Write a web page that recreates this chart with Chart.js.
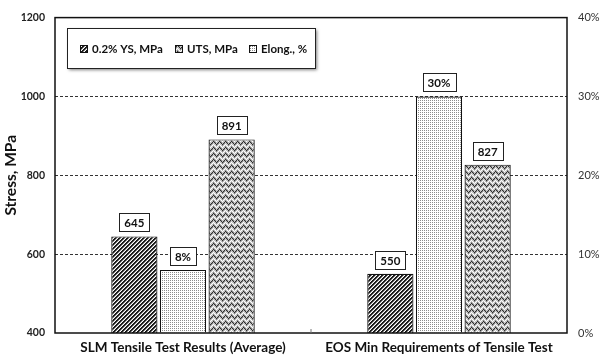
<!DOCTYPE html>
<html>
<head>
<meta charset="utf-8">
<script src="https://cdn.jsdelivr.net/npm/chart.js@4.4.1/dist/chart.umd.min.js"></script>
<style>
  html, body { margin: 0; padding: 0; background: #fff; overflow: hidden; }
  #wrap { width: 604px; height: 356px; }
</style>
</head>
<body>
<div id="wrap"><canvas id="c" width="604" height="356"></canvas></div>
<script>
// Tensile test categories and results
const categories = ['SLM Tensile Test Results (Average)', 'EOS Min Requirements of Tensile Test'];
const ysMPa = [645, 550];       // 0.2% yield strength, MPa
const elongPct = [8, 30];       // elongation, %
const utsMPa = [891, 827];      // ultimate tensile strength, MPa
const stressTicks = [400, 600, 800, 1000, 1200];
const pctTicks = [0, 10, 20, 30, 40];

const FONT = 'Lato, "Open Sans", "DejaVu Sans", sans-serif';

// Pixel fill patterns for the bars
function pixelPattern(size, colorAt) {
  const c = document.createElement('canvas');
  c.width = size; c.height = size;
  const g = c.getContext('2d');
  for (let y = 0; y < size; y++) {
    for (let x = 0; x < size; x++) {
      g.fillStyle = colorAt(x, y);
      g.fillRect(x, y, 1, 1);
    }
  }
  return g.createPattern(c, 'repeat');
}
// dense "/" hatching
const hatchFill = pixelPattern(4, (x, y) => {
  const d = (x + y) % 4;
  return (d === 0 || d === 1) ? '#1c1c1c' : (d === 2 ? '#9a9a9a' : '#ffffff');
});
// light fine dots
const dotFill = pixelPattern(2, (x, y) => (x === 0 && y === 0) ? '#8c8c8c' : '#ffffff');
// fine chevron weave
const weaveFill = pixelPattern(6, (x, y) => {
  const k = x < 3 ? (x + y) % 6 : (x - y + 12) % 6;
  if (k === 0) return '#2e2e2e';
  if (k === 3) return '#ffffff';
  if (k === 1) return '#8a8a8a';
  return '#c4c4c4';
});

const datasets = [
  { label: '0.2% YS, MPa', data: ysMPa, yAxisID: 'y', backgroundColor: hatchFill, suffix: '', legendOrder: 0 },
  { label: 'Elong., %', data: elongPct, yAxisID: 'y1', backgroundColor: dotFill, suffix: '%', legendOrder: 2 },
  { label: 'UTS, MPa', data: utsMPa, yAxisID: 'y', backgroundColor: weaveFill, suffix: '', legendOrder: 1 }
].map(d => Object.assign(d, {
  borderColor: '#111', borderWidth: 1.2, categoryPercentage: 0.57, barPercentage: 0.95
}));

// Plot frame drawn over the grid
const framePlugin = {
  id: 'frame',
  afterDatasetsDraw(chart) {
    const { ctx, chartArea: a } = chart;
    ctx.save();
    ctx.strokeStyle = '#111'; ctx.lineWidth = 1.5;
    ctx.strokeRect(a.left, a.top, a.right - a.left, a.bottom - a.top);
    // small divider tick between the two groups
    const xs = chart.scales.x;
    const mid = (xs.getPixelForValue(0) + xs.getPixelForValue(1)) / 2;
    ctx.lineWidth = 1; ctx.strokeStyle = '#777';
    ctx.beginPath(); ctx.moveTo(mid, a.bottom); ctx.lineTo(mid, a.bottom - 4); ctx.stroke();
    ctx.restore();
  }
};

// Boxed value labels above each bar
const valueLabels = {
  id: 'valueLabels',
  afterDatasetsDraw(chart) {
    const { ctx } = chart;
    ctx.save();
    ctx.font = 'bold 11.5px ' + FONT;
    ctx.textAlign = 'center';
    ctx.textBaseline = 'middle';
    chart.data.datasets.forEach((ds, i) => {
      chart.getDatasetMeta(i).data.forEach((bar, j) => {
        const txt = ds.data[j] + ds.suffix;
        const w = Math.round(ctx.measureText(txt).width + 10);
        const h = 18;
        const x = bar.x, yb = Math.round(bar.y - 5);
        const left = Math.round(x - w / 2);
        ctx.fillStyle = '#fff';
        ctx.fillRect(left, yb - h, w, h);
        ctx.strokeStyle = '#222'; ctx.lineWidth = 1;
        ctx.strokeRect(left + 0.5, yb - h + 0.5, w, h);
        ctx.fillStyle = '#111';
        ctx.fillText(txt, x, yb - h / 2 + 1);
      });
    });
    ctx.restore();
  }
};

// Boxed legend inside the plot area
const boxLegend = {
  id: 'boxLegend',
  afterDraw(chart) {
    const { ctx } = chart;
    const bx = 67, by = 28, bw = 248, bh = 40;
    ctx.save();
    ctx.shadowColor = 'rgba(0,0,0,0.5)';
    ctx.shadowBlur = 3; ctx.shadowOffsetX = 2; ctx.shadowOffsetY = 2;
    ctx.fillStyle = '#fff';
    ctx.fillRect(bx, by, bw, bh);
    ctx.restore();
    ctx.save();
    ctx.strokeStyle = '#222'; ctx.lineWidth = 1;
    ctx.strokeRect(bx + 0.5, by + 0.5, bw, bh);
    ctx.font = 'bold 11.5px ' + FONT;
    ctx.textBaseline = 'middle';
    const items = chart.data.datasets.slice().sort((a, b) => a.legendOrder - b.legendOrder);
    const starts = [80, 175, 249];
    const cy = by + bh / 2 + 1;
    items.forEach((ds, k) => {
      const x = starts[k];
      ctx.fillStyle = ds.backgroundColor;
      ctx.fillRect(x, cy - 4, 8, 8);
      ctx.strokeStyle = '#111';
      ctx.strokeRect(x + 0.5, cy - 3.5, 7, 7);
      ctx.fillStyle = '#111';
      ctx.fillText(ds.label, x + 12, cy);
    });
    ctx.restore();
  }
};

new Chart(document.getElementById('c'), {
  type: 'bar',
  data: { labels: categories, datasets },
  plugins: [framePlugin, valueLabels, boxLegend],
  options: {
    responsive: false,
    animation: false,
    layout: { padding: { top: 17, left: 0, right: 0, bottom: 0 } },
    plugins: { legend: { display: false }, tooltip: { enabled: false } },
    scales: {
      x: {
        grid: { display: false, drawTicks: false },
        border: { display: false },
        ticks: { font: { family: FONT, weight: 'bold', size: 13.5 }, color: '#111', padding: 7 },
        afterFit(s) { s.height = 23; }
      },
      y: {
        position: 'left',
        min: stressTicks[0], max: stressTicks[stressTicks.length - 1],
        afterBuildTicks(s) { s.ticks = stressTicks.map(v => ({ value: v })); },
        ticks: { font: { family: FONT, weight: 'bold', size: 10.5 }, color: '#222', padding: 10, callback: v => String(v) },
        grid: {
          drawTicks: false,
          color: c => (c.tick && (c.tick.value === 400 || c.tick.value === 1200)) ? 'rgba(0,0,0,0)' : '#333',
          lineWidth: 1
        },
        border: { display: false, dash: [3, 2] },
        title: { display: true, text: 'Stress, MPa', font: { family: FONT, size: 15.5, weight: 'bold' }, color: '#111', padding: { top: 2, bottom: 0 } },
        afterFit(s) { s.width = 55; }
      },
      y1: {
        position: 'right',
        min: pctTicks[0], max: pctTicks[pctTicks.length - 1],
        afterBuildTicks(s) { s.ticks = pctTicks.map(v => ({ value: v })); },
        ticks: { font: { family: FONT, size: 11 }, color: '#333', padding: 11, callback: v => v + '%' },
        grid: { drawOnChartArea: false, drawTicks: false },
        border: { display: false },
        afterFit(s) { s.width = 37; }
      }
    }
  }
});
</script>
</body>
</html>
